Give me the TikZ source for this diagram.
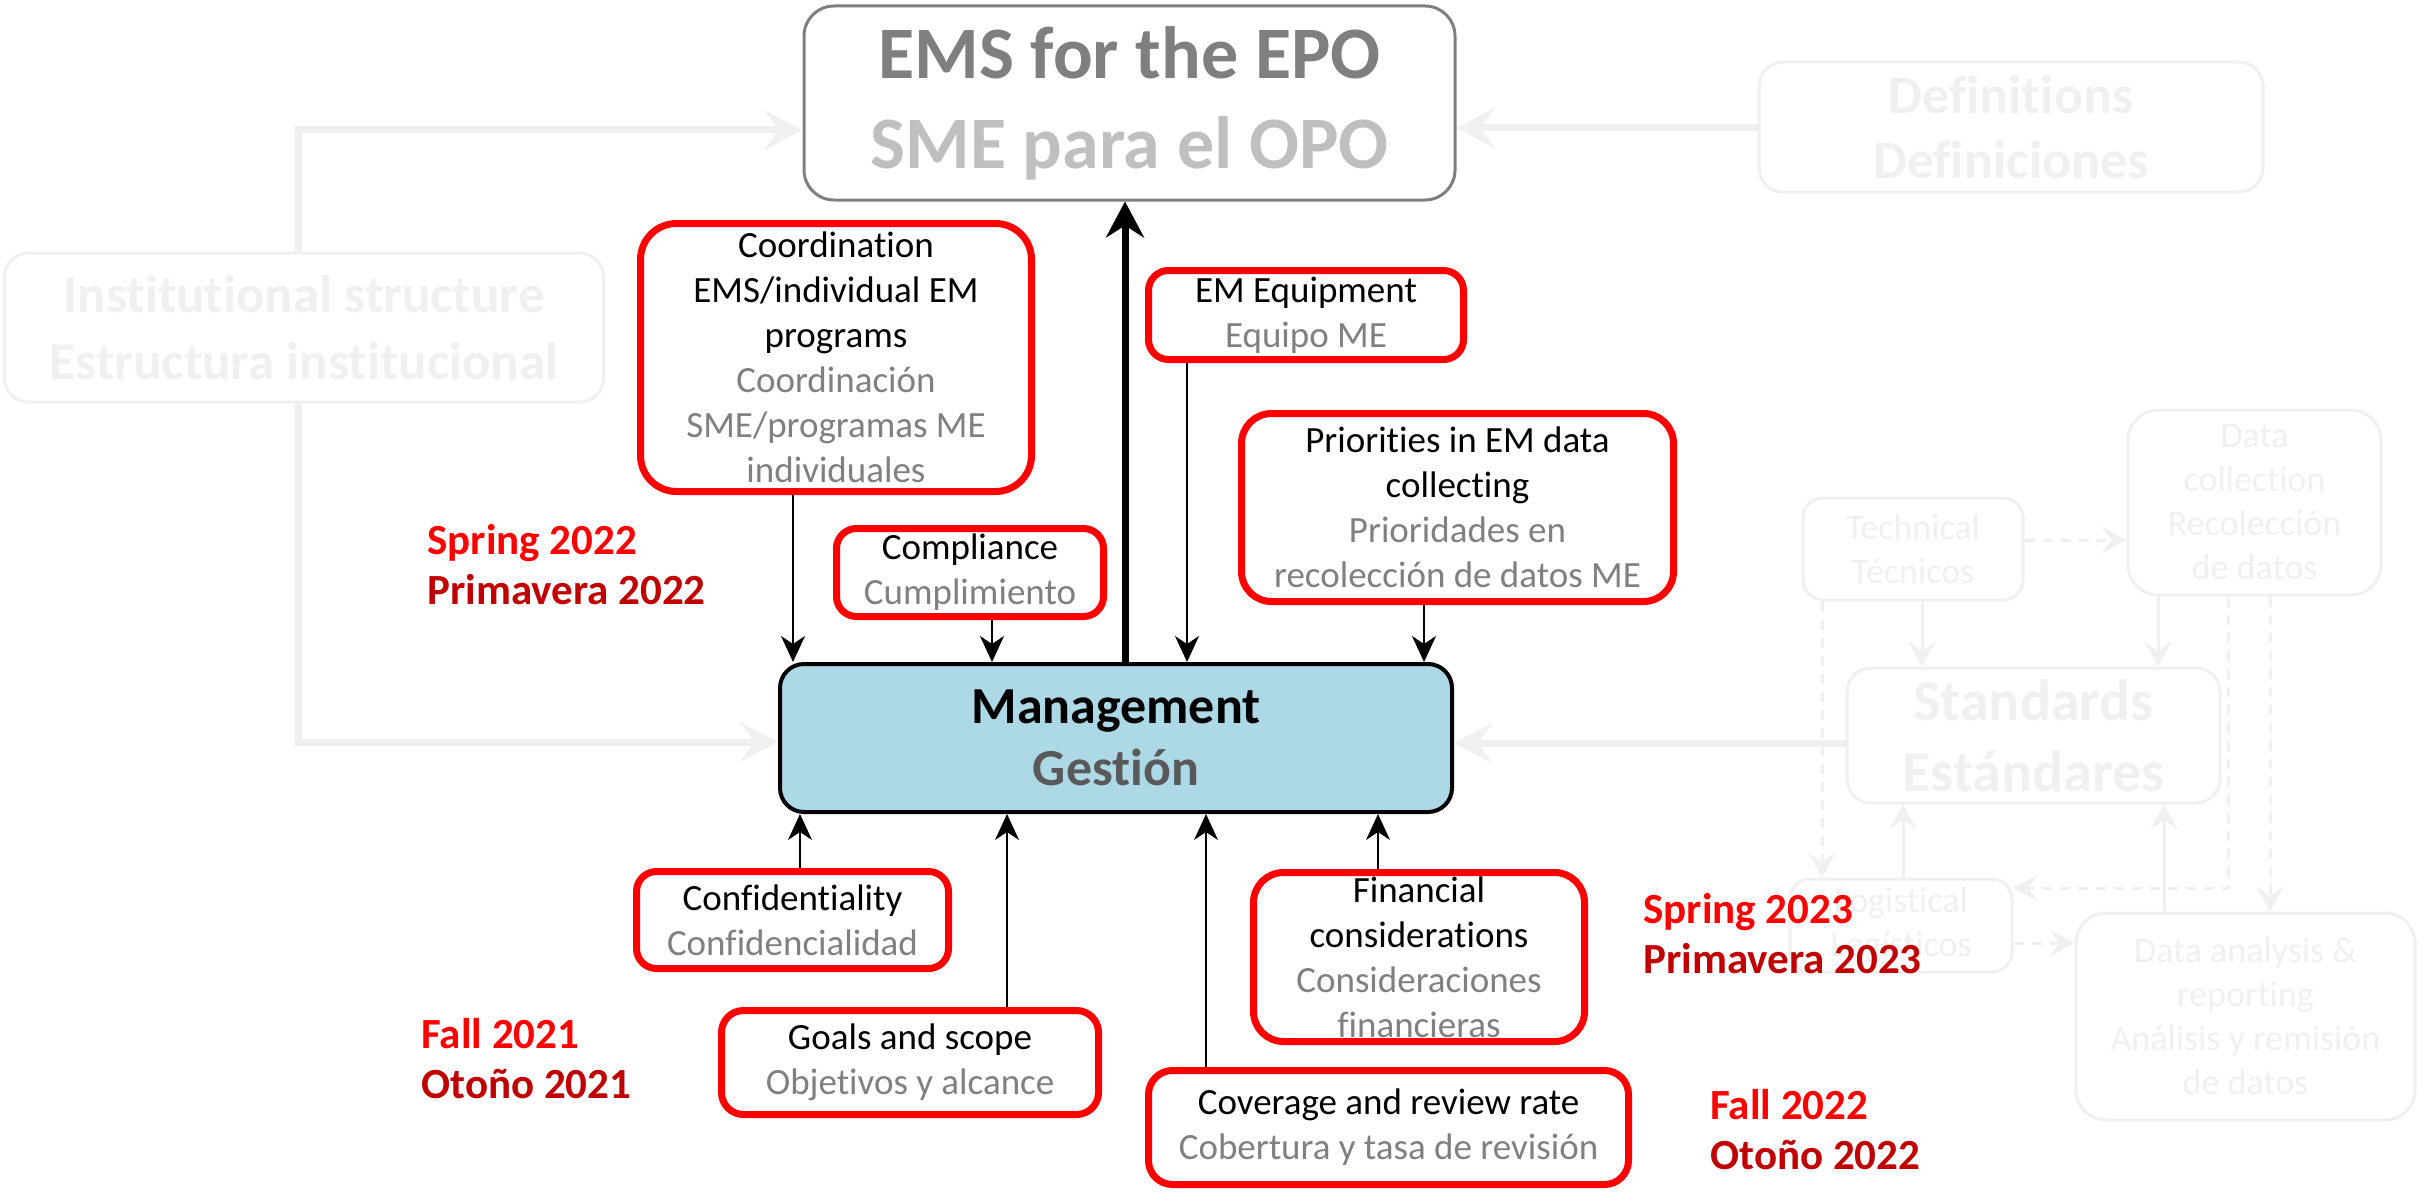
\documentclass[tikz,border=0pt]{standalone}
\usepackage{fontspec}
\setmainfont{Carlito}[Ligatures=NoCommon]
\usepackage{tikz}
\definecolor{alarm}{HTML}{FF0000}
\definecolor{alarmdark}{HTML}{C00000}
\definecolor{esgray}{HTML}{808080}
\definecolor{emsgray}{HTML}{7F7F7F}
\definecolor{emslight}{HTML}{BFBFBF}
\definecolor{gestgray}{HTML}{595959}
\definecolor{ghost}{HTML}{F0F0F0}
\definecolor{coreblue}{HTML}{ADD8E6}
\tikzset{
    topic/.style={draw=alarm, line width=3.5pt, rounded corners=13pt, fill=white, align=center, inner sep=2pt, font=\fontsize{18.5}{22.5}\selectfont},
    core/.style={draw=black, line width=2pt, rounded corners=12pt, fill=coreblue, align=center, font=\bfseries\fontsize{26}{31}\selectfont},
    goal/.style={draw=emsgray, line width=1.5pt, rounded corners=15pt, text=emsgray, align=center, font=\bfseries\fontsize{37}{45}\selectfont},
    ghostbox/.style={draw=ghost, line width=1.5pt, rounded corners=10pt, text=ghost, align=center, inner sep=2pt, font=\fontsize{18}{22}\selectfont},
    ghostbig/.style={ghostbox, rounded corners=12pt, font=\bfseries\fontsize{26.5}{33.5}\selectfont},
    period/.style={anchor=west, align=left, inner sep=0pt, font=\bfseries\fontsize{21.5}{25}\selectfont},
    feeds/.style={-{Stealth[length=13pt, width=12pt, inset=4pt]}, line width=1pt},
    lift/.style={-{Stealth[length=18pt, width=19pt, inset=6pt]}, line width=3.5pt},
    ghostlink/.style={draw=ghost, -{Stealth[length=12.5pt, width=13.5pt, inset=5pt]}, line width=1.5pt},
    ghostmain/.style={draw=ghost, -{Stealth[length=19pt, width=20pt, inset=7pt]}, line width=3.5pt},
    ghostdash/.style={ghostlink, dash pattern=on 5pt off 4pt} }
\usetikzlibrary{arrows.meta, calc, positioning}
\newcommand{\trad}[1]{\textcolor{esgray}{#1}}

\begin{document}
\begin{tikzpicture}[x=0.5pt, y=-0.5pt]
	\useasboundingbox (0,0) rectangle (2430,1193);
	% ---- faded context
	\node[ghostbig, minimum width=299.5pt, minimum height=74.5pt] (inst) at (304,327.5) {Institutional structure\\Estructura institucional};
	\node[ghostbig, minimum width=252pt, minimum height=65pt, font=\bfseries\fontsize{27}{32.5}\selectfont] (defs) at (2011,127) {Definitions\\Definiciones};
	\node[ghostbox, minimum width=110pt, minimum height=51pt] (tech) at (1913,549) {Technical\\Técnicos};
	\node[ghostbox, minimum width=126.5pt, minimum height=92.5pt, rounded corners=15pt] (dcol) at (2254.5,502.5) {Data\\collection\\Recolección\\de datos};
	\node[ghostbig, minimum width=186.5pt, minimum height=67.5pt, font=\bfseries\fontsize{29}{35.5}\selectfont] (std) at (2033.5,735.5) {Standards\\Estándares};
	\node[ghostbox, minimum width=111pt, minimum height=46.5pt] (logi) at (1901,925.5) {Logistical\\Logísticos};
	\node[ghostbox, minimum width=169.5pt, minimum height=103.5pt, rounded corners=15pt] (dana) at (2245.5,1016.5) {Data analysis \&\\reporting\\Análisis y remisión\\de datos};
	% ---- main
	\node[goal, minimum width=325.5pt, minimum height=97pt] (ems) at (1129.5,103) {EMS for the EPO\\\textcolor{emslight}{SME para el OPO}};
	\node[core, minimum width=336pt, minimum height=74pt] (mgmt) at (1116,738) {Management\\\textcolor{gestgray}{Gestión}};
	\node[topic, minimum width=195.5pt, minimum height=134pt, rounded corners=18pt] (coord) at (836,357.5) {Coordination\\EMS/individual EM\\programs\\\trad{Coordinación}\\\trad{SME/programas ME}\\\trad{individuales}};
	\node[topic, minimum width=133.5pt, minimum height=44pt, rounded corners=10pt] (compl) at (970,572.5) {Compliance\\\trad{Cumplimiento}};
	\node[topic, minimum width=157.5pt, minimum height=44.5pt, rounded corners=10pt] (emeq) at (1306,315) {EM Equipment\\\trad{Equipo ME}};
	\node[topic, minimum width=216pt, minimum height=94pt, rounded corners=15pt] (prio) at (1457.5,507.5) {Priorities in EM data\\collecting\\\trad{Prioridades en}\\\trad{recolección de datos ME}};
	\node[topic, minimum width=156pt, minimum height=48.5pt, rounded corners=10pt] (conf) at (792.5,920) {Confidentiality\\\trad{Confidencialidad}};
	\node[topic, minimum width=188.5pt, minimum height=52pt, rounded corners=11pt] (goals) at (910,1062.5) {Goals and scope\\\trad{Objetivos y alcance}};
	\node[topic, minimum width=165.5pt, minimum height=84.5pt, rounded corners=15pt] (fin) at (1419,957) {Financial\\considerations\\\trad{Consideraciones}\\\trad{financieras}};
	\node[topic, minimum width=240pt, minimum height=57pt, rounded corners=12pt] (cov) at (1388.5,1127.5) {Coverage and review rate\\\trad{Cobertura y tasa de revisión}};
	% ---- periods
	\node[period] (spring22) at (427,565) {\textcolor{alarm}{Spring 2022}\\\textcolor{alarmdark}{Primavera 2022}};
	\node[period] (fall21) at (421,1059) {\textcolor{alarm}{Fall 2021}\\\textcolor{alarmdark}{Otoño 2021}};
	\node[period] (spring23) at (1643,933.5) {\textcolor{alarm}{Spring 2023}\\\textcolor{alarmdark}{Primavera 2023}};
	\node[period] (fall22) at (1710,1130) {\textcolor{alarm}{Fall 2022}\\\textcolor{alarmdark}{Otoño 2022}};
	% ---- faded links
	\draw[ghostmain] (inst.north -| 298,0) |- (ems.west |- 0,130);
	\draw[ghostmain] (inst.south -| 298,0) |- (mgmt.west |- 0,742);
	\draw[ghostmain] (defs.west |- 0,128) -- (ems.east |- 0,128);
	\draw[ghostmain] (std.west |- 0,743) -- (mgmt.east |- 0,743);

	\draw[ghostdash] (tech.east |- 0,540) -- (dcol.west |- 0,540);
	\draw[ghostlink] (tech.south -| 1922,0) -- (std.north -| 1922,0);
	\draw[ghostlink] (dcol.south -| 2158,0) -- (std.north -| 2158,0);
	\draw[ghostdash] (tech.south -| 1822,0) -- (logi.north -| 1822,0);
	\draw[ghostdash] (dcol.south -| 2228,0) |- (logi.east |- 0,888);
	\draw[ghostdash] (dcol.south -| 2270,0) -- (dana.north -| 2270,0);
	\draw[ghostlink] (logi.north -| 1903,0) -- (std.south -| 1903,0);
	\draw[ghostlink] (dana.north -| 2164,0) -- (std.south -| 2164,0);
	\draw[ghostdash] (logi.east |- 0,943) -- (dana.west |- 0,943);
	% ---- into management
	\draw[feeds] (coord.south -| 793,0) -- (mgmt.north -| 793,0);
	\draw[feeds] (compl.south -| 992,0) -- (mgmt.north -| 992,0);
	\draw[feeds] (emeq.south -| 1187,0) -- (mgmt.north -| 1187,0);
	\draw[feeds] (prio.south -| 1424,0) -- (mgmt.north -| 1424,0);
	\draw[feeds] (conf.north -| 800,0) -- (mgmt.south -| 800,0);
	\draw[feeds] (goals.north -| 1007,0) -- (mgmt.south -| 1007,0);
	\draw[feeds] (cov.north -| 1206,0) -- (mgmt.south -| 1206,0);
	\draw[feeds] (fin.north -| 1378,0) -- (mgmt.south -| 1378,0);

	\draw[lift] (mgmt.north -| 1125,0) -- (ems.south -| 1125,0);
\end{tikzpicture}
\end{document}
